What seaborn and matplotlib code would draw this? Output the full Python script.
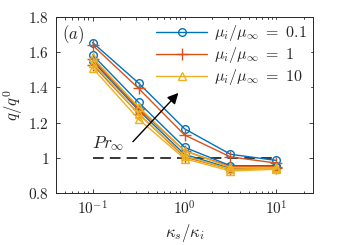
import matplotlib
matplotlib.use("Agg")
import matplotlib.pyplot as plt
import seaborn as sns
import numpy as np
import pandas as pd

# kappa_s / kappa_i sample points
kappa_ratio = [0.1, 0.316, 1.0, 3.16, 10.0]

# q/q0 for mu_i/mu_inf = 0.1, 1, 10 (three Pr_inf values each, low -> high)
q_mu01 = [
    [1.55, 1.27, 1.02, 0.94, 0.945],
    [1.585, 1.315, 1.06, 0.955, 0.955],
    [1.655, 1.425, 1.165, 1.02, 0.985],
]
q_mu1 = [
    [1.53, 1.25, 1.005, 0.935, 0.94],
    [1.56, 1.28, 1.04, 0.95, 0.95],
    [1.64, 1.395, 1.13, 1.005, 0.97],
]
q_mu10 = [
    [1.51, 1.22, 0.995, 0.925, 0.935],
    [1.54, 1.25, 1.01, 0.935, 0.94],
    [1.57, 1.29, 1.04, 0.945, 0.945],
]
mu_labels = [r"$\mu_i/\mu_\infty\ =\ 0.1$", r"$\mu_i/\mu_\infty\ =\ 1$", r"$\mu_i/\mu_\infty\ =\ 10$"]
colors = ["#0072BD", "#D95319", "#EDB120"]
markers = ["o", "+", "^"]
msizes = [5.5, 8, 5.5]

rows = []
for label, series in zip(mu_labels, [q_mu01, q_mu1, q_mu10]):
    for pr_idx, vals in enumerate(series):
        for k, q in zip(kappa_ratio, vals):
            rows.append({"kappa": k, "q": q, "mu": label, "pr": pr_idx})
df = pd.DataFrame(rows)

sns.set_style("ticks")
plt.rcParams["mathtext.fontset"] = "cm"
plt.rcParams["font.family"] = ["DejaVu Serif"]

fig = plt.figure(figsize=(3.42, 2.45), dpi=100)
ax = fig.add_axes([56 / 342, 1 - 193 / 245, (313 - 56) / 342, (193 - 17) / 245])

for label, c, m, s in zip(mu_labels, colors, markers, msizes):
    sub = df[df["mu"] == label]
    sns.lineplot(data=sub, x="kappa", y="q", units="pr", estimator=None,
                 color=c, marker=m, lw=1.0, ms=s, mfc="none", mec=c, mew=1.0,
                 legend=False, ax=ax)

# reference q/q0 = 1
ax.plot([0.1, 10], [1, 1], color="black", lw=1.1, ls=(0, (7, 4)), zorder=1)

ax.set_xscale("log")
ax.set_xlim(0.04, 25)
ax.set_ylim(0.8, 1.8)
ax.set_xticks([0.1, 1, 10])
ax.set_xticklabels([r"$10^{-1}$", r"$10^{0}$", r"$10^{1}$"])
yt = [0.8, 1.0, 1.2, 1.4, 1.6, 1.8]
ax.set_yticks(yt)
ax.set_yticklabels([r"$0.8$", r"$1$", r"$1.2$", r"$1.4$", r"$1.6$", r"$1.8$"])
ax.tick_params(which="both", direction="in", top=True, right=True, labelsize=11, pad=5)
ax.tick_params(which="major", length=3, width=0.6)
ax.tick_params(which="minor", length=1.8, width=0.6)
for s in ax.spines.values():
    s.set_linewidth(0.7)
    s.set_color("#262626")

ax.set_xlabel(r"$\kappa_s/\kappa_i$", fontsize=12, labelpad=3)
ax.set_ylabel(r"$q/q^0$", fontsize=12, labelpad=2)

ax.text(0.047, 1.7, r"$(a)$", fontsize=12, va="center", ha="left")
ax.annotate("", xy=(0.9, 1.38), xytext=(0.262, 1.08),
            arrowprops=dict(arrowstyle="-|>", color="black", lw=1.0,
                            mutation_scale=16))
ax.text(0.098, 1.08, r"$Pr_\infty$", fontsize=12.5, va="center", ha="left")

handles = [plt.Line2D([], [], color=c, marker=m, lw=1.0, ms=s, mfc="none", mew=1.0)
           for c, m, s in zip(colors, markers, msizes)]
leg = ax.legend(handles, mu_labels, loc="upper right", frameon=True, fontsize=11.5,
                handlelength=3.2, handletextpad=0.4, labelspacing=0.12,
                borderaxespad=0.2, borderpad=0.2)
leg.get_frame().set_edgecolor("white")
leg.get_frame().set_alpha(1)

fig.savefig("out.png", dpi=100)
